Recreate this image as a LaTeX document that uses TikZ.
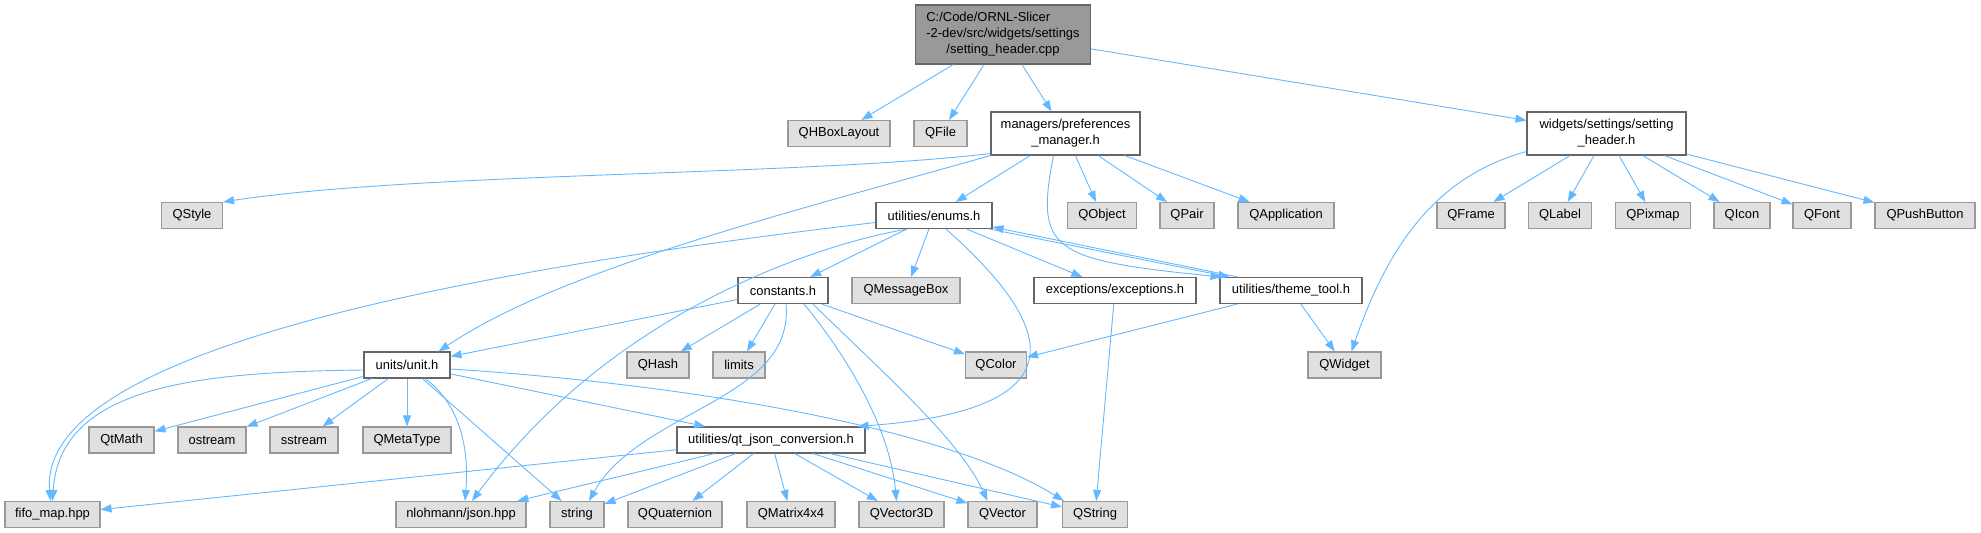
\documentclass[tikz,border=0pt]{standalone}
\usepackage{fontspec}
\setmainfont{Liberation Sans}
\usetikzlibrary{arrows.meta, calc}
\definecolor{edgeblue}{HTML}{63B8FF}
\definecolor{boxgray}{HTML}{E0E0E0}
\definecolor{boxline}{HTML}{999999}
\definecolor{darkline}{HTML}{666666}
\definecolor{rootfill}{HTML}{999999}
\tikzset{
  extfile/.style={rectangle, minimum height=26bp, inner xsep=3bp, inner ysep=2bp, text centered, draw=boxline, fill=boxgray, line width=1.1bp, font=\fontsize{13}{16}\selectfont},
  srcfile/.style={rectangle, minimum height=26bp, inner xsep=3bp, inner ysep=2bp, text centered, draw=darkline, fill=white, line width=1.1bp, font=\fontsize{13}{16}\selectfont},
  rootfile/.style={srcfile, fill=rootfill},
  dep/.style={draw=edgeblue, line width=0.9bp, ->}
}
\newcommand{\twolines}[2]{\begin{tabular}{@{}l@{}}#1\\\multicolumn{1}{@{}c@{}}{#2}\end{tabular}}

\begin{document}
\begin{tikzpicture}[x=1bp, y=-1bp, >={Triangle[length=11bp,width=8bp]}]
    \useasboundingbox (0,0) rectangle (1981,533);

    % 1. Source file and first level
    \node[rootfile, minimum width=175bp, minimum height=59bp] (root) at (1003,34.5)
        {\begin{tabular}{@{}l@{}}C:/Code/ORNL-Slicer\\-2-dev/src/widgets/settings\\\multicolumn{1}{@{}c@{}}{/setting\_header.cpp}\end{tabular}};
    \node[extfile, minimum width=102bp] (qhbox) at (839,133.5) {QHBoxLayout};
    \node[extfile, minimum width=53bp] (qfile) at (940.5,133.5) {QFile};
    \node[srcfile, minimum width=149bp, minimum height=43bp] (prefmgr) at (1065.5,133.5) {\twolines{managers/preferences}{\_manager.h}};
    \node[srcfile, minimum width=159bp, minimum height=43bp] (sethdr) at (1606.5,133.5) {\twolines{widgets/settings/setting}{\_header.h}};

    % 2. Second level
    \node[extfile, minimum width=61bp] (qstyle) at (192,215.5) {QStyle};
    \node[srcfile, minimum width=116bp] (enums) at (934,215.5) {utilities/enums.h};
    \node[extfile, minimum width=69bp] (qobject) at (1102,215.5) {QObject};
    \node[extfile, minimum width=54bp] (qpair) at (1187,215.5) {QPair};
    \node[extfile, minimum width=96bp] (qapp) at (1286,215.5) {QApplication};
    \node[extfile, minimum width=68bp] (qframe) at (1471,215.5) {QFrame};
    \node[extfile, minimum width=63bp] (qlabel) at (1560,215.5) {QLabel};
    \node[extfile, minimum width=75bp] (qpixmap) at (1653,215.5) {QPixmap};
    \node[extfile, minimum width=56bp] (qicon) at (1742,215.5) {QIcon};
    \node[extfile, minimum width=58bp] (qfont) at (1822,215.5) {QFont};
    \node[extfile, minimum width=100bp] (qpush) at (1925,215.5) {QPushButton};

    % 3. Third level
    \node[srcfile, minimum width=90bp] (constants) at (783,290.5) {constants.h};
    \node[extfile, minimum width=108bp] (qmsgbox) at (906,290.5) {QMessageBox};
    \node[srcfile, minimum width=162bp] (exceptions) at (1115,290.5) {exceptions/exceptions.h};
    \node[srcfile, minimum width=142bp] (themetool) at (1291,290.5) {utilities/theme\_tool.h};

    % 4. Fourth level
    \node[srcfile, minimum width=86bp] (unit) at (407,365) {units/unit.h};
    \node[extfile, minimum width=62bp] (qhash) at (658,365) {QHash};
    \node[extfile, minimum width=52bp] (limits) at (739,365) {limits};
    \node[extfile, minimum width=61bp] (qcolor) at (996,365) {QColor};
    \node[extfile, minimum width=73bp] (qwidget) at (1344.5,365) {QWidget};

    % 5. Fifth level
    \node[extfile, minimum width=65bp] (qtmath) at (121.5,440) {QtMath};
    \node[extfile, minimum width=68bp] (ostream) at (212,440) {ostream};
    \node[extfile, minimum width=68bp] (sstream) at (304,440) {sstream};
    \node[extfile, minimum width=88bp] (qmetatype) at (407,440) {QMetaType};
    \node[srcfile, minimum width=188bp] (qtjson) at (771,440) {utilities/qt\_json\_conversion.h};

    % 6. Bottom row
    \node[extfile, minimum width=95bp] (fifomap) at (52.5,514.5) {fifo\_map.hpp};
    \node[extfile, minimum width=130bp] (nlohmann) at (461,514.5) {nlohmann/json.hpp};
    \node[extfile, minimum width=54bp] (string) at (577,514.5) {string};
    \node[extfile, minimum width=94bp] (qquat) at (675,514.5) {QQuaternion};
    \node[extfile, minimum width=88bp] (qmat) at (791,514.5) {QMatrix4x4};
    \node[extfile, minimum width=85bp] (qvec3d) at (901.5,514.5) {QVector3D};
    \node[extfile, minimum width=69bp] (qvector) at (1002.5,514.5) {QVector};
    \node[extfile, minimum width=65bp] (qstring) at (1095,514.5) {QString};

    % -------------------------------------------------------------
    % Includes (straight)
    % -------------------------------------------------------------
    \foreach \a/\b in {root/qhbox, root/qfile, root/prefmgr, root/sethdr,
        prefmgr/enums, prefmgr/qobject, prefmgr/qpair, prefmgr/qapp,
        sethdr/qframe, sethdr/qlabel, sethdr/qpixmap, sethdr/qicon, sethdr/qfont, sethdr/qpush,
        enums/constants, enums/qmsgbox, enums/exceptions,
        constants/unit, constants/qhash, constants/limits, constants/qcolor,
        exceptions/qstring, themetool/qcolor, themetool/qwidget,
        unit/qtmath, unit/ostream, unit/sstream, unit/qmetatype, unit/string, unit/qtjson,
        qtjson/fifomap, qtjson/nlohmann, qtjson/string, qtjson/qquat, qtjson/qmat,
        qtjson/qvec3d, qtjson/qvector, qtjson/qstring}
        \draw[dep] (\a) -- (\b);

    % Includes (curved)
    \draw[dep] ($(prefmgr.south west)+(0,-2)$) .. controls (800,176) and (420,172) .. (qstyle.north east);
    \draw[dep] (prefmgr.south west) .. controls (780,215) and (560,270) .. ($(unit.north east)+(-12,0)$);
    \draw[dep] ($(prefmgr.south)+(-12,0)$) .. controls (1035,250) and (1050,260) .. ($(themetool.north west)+(2,0)$);
    \draw[dep] ($(enums.south east)+(-3,0)$) -- ($(themetool.north west)+(10,0)$);
    \draw[dep] ($(themetool.north west)+(18,0)$) -- ($(enums.south east)+(0,-2)$);
    \draw[dep] ($(enums.west)+(0,7)$) .. controls (300,290) and (40,380) .. ($(fifomap.north)+(-2,0)$);
    \draw[dep] ($(enums.south west)+(32,0)$) .. controls (840,240) and (620,300) .. ($(nlohmann.north)+(11,0)$);
    \draw[dep] ($(enums.south)+(12,0)$) .. controls (1060,330) and (1080,410) .. ($(qtjson.north east)+(-8,0)$);
    \draw[dep] ($(constants.south)+(3,0)$) .. controls (795,400) and (640,410) .. ($(string.north)+(12,0)$);
    \draw[dep] ($(constants.south)+(21,0)$) .. controls (850,360) and (890,430) .. ($(qvec3d.north)+(-5,0)$);
    \draw[dep] ($(constants.south)+(30,0)$) .. controls (880,370) and (960,440) .. ($(qvector.north)+(-15,0)$);
    \draw[dep] ($(unit.west)+(0,5)$) .. controls (200,372) and (60,385) .. (fifomap.north);
    \draw[dep] ($(unit.south)+(18,0)$) .. controls (455,400) and (470,440) .. ($(nlohmann.north)+(4,0)$);
    \draw[dep] ($(unit.east)+(0,4)$) .. controls (700,385) and (950,430) .. ($(qstring.north west)+(2,0)$);
    \draw[dep] ($(sethdr.south west)+(0,-4)$) .. controls (1440,175) and (1390,240) .. ($(qwidget.north)+(7,0)$);

\end{tikzpicture}
\end{document}
